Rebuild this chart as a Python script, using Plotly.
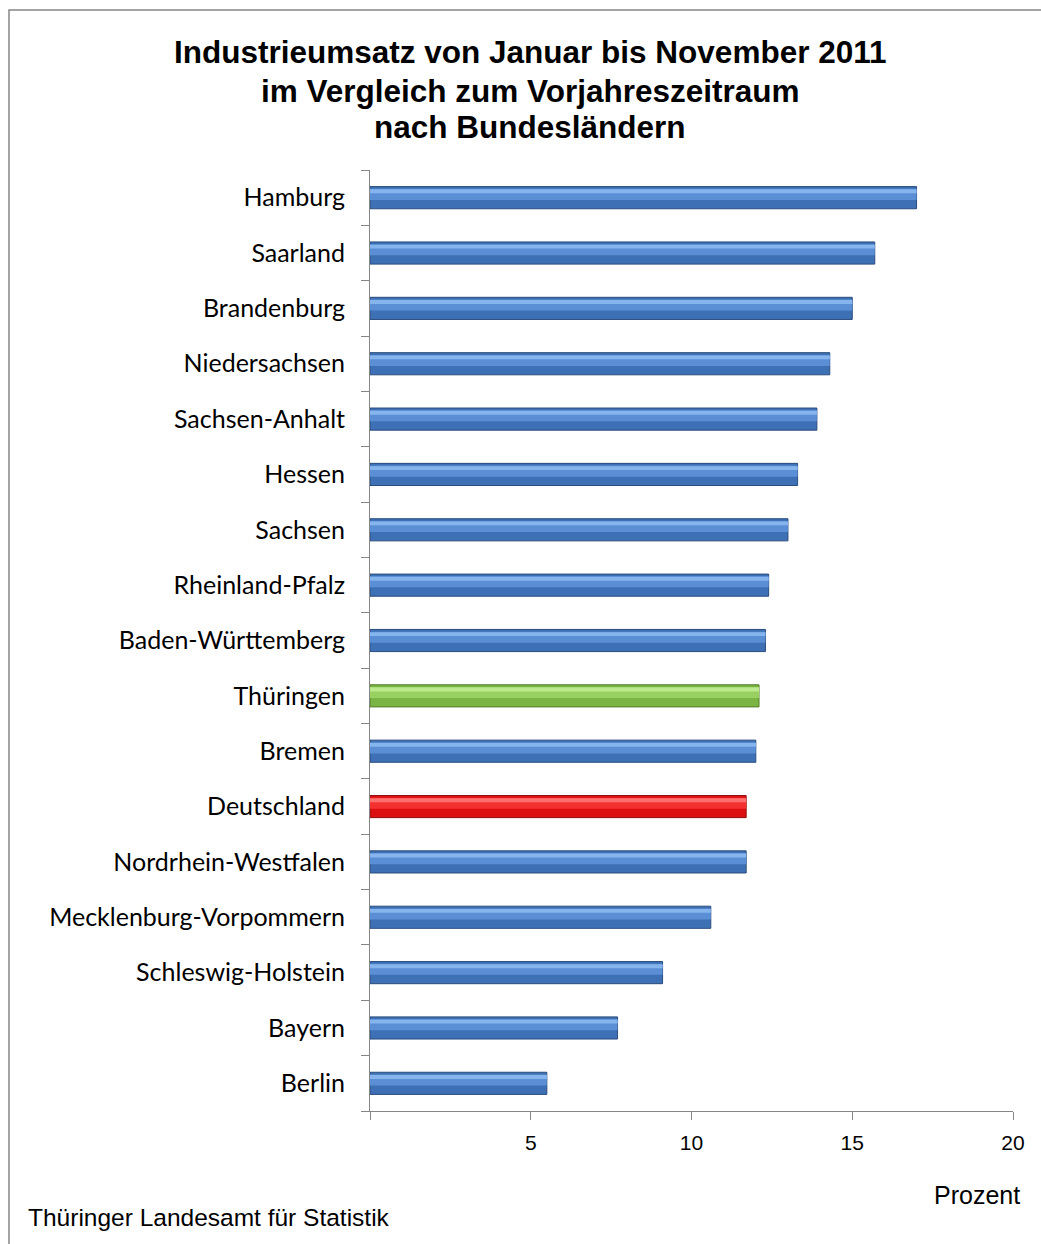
import plotly.graph_objects as go

# ---- data (top = first) ----
laender = ["Hamburg", "Saarland", "Brandenburg", "Niedersachsen", "Sachsen-Anhalt",
           "Hessen", "Sachsen", "Rheinland-Pfalz", "Baden-Württemberg", "Thüringen",
           "Bremen", "Deutschland", "Nordrhein-Westfalen", "Mecklenburg-Vorpommern",
           "Schleswig-Holstein", "Bayern", "Berlin"]
prozent = [17.0, 15.7, 15.0, 14.3, 13.9, 13.3, 13.0, 12.4, 12.3, 12.1,
           12.0, 11.7, 11.7, 10.6, 9.1, 7.7, 5.5]
x_ticks = [0, 5, 10, 15, 20]
x_ticktext = ["", "5", "10", "15", "20"]

title_lines = ["Industrieumsatz von Januar bis November 2011",
               "im Vergleich zum Vorjahreszeitraum",
               "nach Bundesländern"]

# ---- styles ----
W, H = 1041, 1244
L, R, T, B = 370, 28, 170, 133
pw, ph = W - L - R, H - T - B
title_line_y = [52, 91, 127]

palette = {
    "blue": ("#3D70B4", "#5A8FD6", "#86B5EE", "#2A4C7C"),
    "green": ("#7AB443", "#98D062", "#BDEA8E", "#557F2C"),
    "red": ("#DC1010", "#F43030", "#FF7070", "#901010"),
}
def style_of(name):
    if name == "Thüringen":
        return palette["green"]
    if name == "Deutschland":
        return palette["red"]
    return palette["blue"]

styles = [style_of(n) for n in laender]

# reverse so first item is at top
ys = laender[::-1]
xs = prozent[::-1]
st = styles[::-1]

fig = go.Figure()
# base bar
fig.add_trace(go.Bar(
    y=ys, x=xs, orientation="h", width=0.40, offset=-0.20,
    marker=dict(color=[s[0] for s in st], line=dict(color=[s[3] for s in st], width=1)),
    hoverinfo="x+y", showlegend=False))
# mid highlight
fig.add_trace(go.Bar(
    y=ys, x=xs, orientation="h", width=0.20, offset=-0.04,
    marker=dict(color=[s[1] for s in st], line=dict(width=0)),
    hoverinfo="skip", showlegend=False))
# top light band
fig.add_trace(go.Bar(
    y=ys, x=xs, orientation="h", width=0.07, offset=0.08,
    marker=dict(color=[s[2] for s in st], line=dict(width=0)),
    hoverinfo="skip", showlegend=False))

fig.update_layout(
    width=W, height=H, barmode="overlay",
    margin=dict(l=L, r=R, t=T, b=B, autoexpand=False),
    paper_bgcolor="white", plot_bgcolor="white",
    font=dict(family="Lato, Liberation Sans, sans-serif", color="black"),
)
fig.update_yaxes(
    type="category", categoryorder="array", categoryarray=ys,
    showline=True, linecolor="#868686", linewidth=1,
    ticks="outside", tickson="boundaries", ticklen=8, tickcolor="#868686",
    showgrid=False, tickfont=dict(family="Lato, sans-serif", size=25, color="black"),
    ticklabelstandoff=19,
)
fig.update_xaxes(
    range=[0, 20], tickvals=x_ticks, ticktext=x_ticktext,
    showline=True, linecolor="#868686", linewidth=1,
    ticks="outside", ticklen=8, tickcolor="#868686", showgrid=False, zeroline=False,
    tickfont=dict(family="Liberation Sans, Arial, sans-serif", size=21, color="black"),
    ticklabelstandoff=5,
)

def px_to_paper_x(p):
    return (p - L) / pw
def px_to_paper_y(p):
    return (H - B - p) / ph

for line, yy in zip(title_lines, title_line_y):
    fig.add_annotation(
        text="<b>%s</b>" % line, xref="paper", yref="paper",
        x=px_to_paper_x(530), y=px_to_paper_y(yy), xanchor="center", yanchor="middle",
        showarrow=False, align="center",
        font=dict(family="Liberation Sans, Arial, sans-serif", size=31.5, color="black"),
    )
fig.add_annotation(
    text="Prozent", xref="paper", yref="paper",
    x=px_to_paper_x(1022), y=px_to_paper_y(1195), xanchor="right", yanchor="middle",
    showarrow=False,
    font=dict(family="Liberation Sans, Arial, sans-serif", size=25, color="black"),
)
fig.add_annotation(
    text="Thüringer Landesamt für Statistik", xref="paper", yref="paper",
    x=px_to_paper_x(26), y=px_to_paper_y(1217), xanchor="left", yanchor="middle",
    showarrow=False,
    font=dict(family="Liberation Sans, Arial, sans-serif", size=24.5, color="black"),
)
fig.add_shape(
    type="rect", xref="paper", yref="paper",
    x0=px_to_paper_x(9), x1=px_to_paper_x(W + 10),
    y0=px_to_paper_y(H + 10), y1=px_to_paper_y(10),
    line=dict(color="#868686", width=1.5), fillcolor="rgba(0,0,0,0)", layer="below",
)

fig.write_html("out.html", config={"displayModeBar": False},
               post_script="document.body.style.margin='0px';document.body.style.overflow='hidden';")
